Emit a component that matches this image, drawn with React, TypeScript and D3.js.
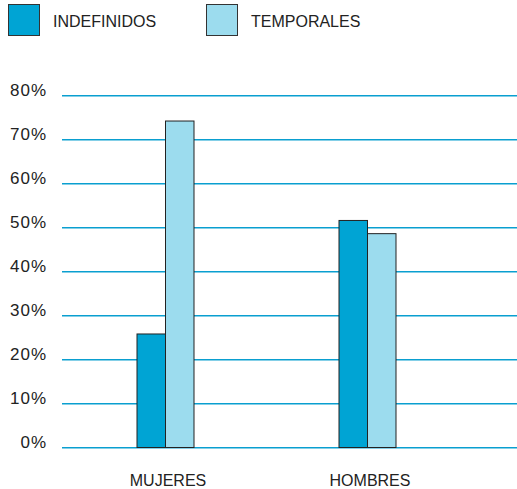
import * as d3 from "d3";
import {useEffect, useRef} from "react";

const categories = ["MUJERES", "HOMBRES"];
const seriesNames = ["INDEFINIDOS", "TEMPORALES"];
const indefinidos = [25.8, 51.6];
const temporales = [74.2, 48.6];
const yTicks = [0, 10, 20, 30, 40, 50, 60, 70, 80];

const colors = ["#00a4d4", "#9cdcee"];

export default function App() {
    const ref = useRef<SVGSVGElement>(null);

    useEffect(() => {
        const width = 517, height = 489;
        const svg = d3.select(ref.current);
        svg.selectAll("*").remove();

        const margin = {top: 95, left: 62, bottom: 42};

        // y scale: 0% -> 447, 80% -> 95
        const y = d3.scaleLinear()
            .domain([0, 80])
            .range([height - margin.bottom, margin.top]);

        // category centers
        const x = d3.scaleBand()
            .domain(categories)
            .range([64, 468])
            .padding(0);

        const groupWidth = 57;
        const inner = d3.scaleBand()
            .domain(seriesNames)
            .range([0, groupWidth])
            .padding(0);

        // gridlines (thin rects, 1px lines came out grey)
        svg.append("g")
            .selectAll("rect")
            .data(yTicks)
            .enter()
            .append("rect")
            .attr("x", margin.left)
            .attr("width", width - margin.left)
            .attr("y", d => Math.round(y(d)))
            .attr("height", 1.5)
            .attr("fill", "#0a9fd0");

        // y labels
        svg.append("g")
            .selectAll("text")
            .data(yTicks)
            .enter()
            .append("text")
            .attr("x", 47)
            .attr("y", d => y(d) + 1)
            .attr("text-anchor", "end")
            .attr("font-size", 17)
            .attr("letter-spacing", 1)
            .attr("fill", "#222")
            .text(d => d + "%");

        const rows = categories.map((c, i) => ({
            cat: c,
            values: [
                {key: seriesNames[0], value: indefinidos[i]},
                {key: seriesNames[1], value: temporales[i]},
            ],
        }));

        const groups = svg.append("g")
            .selectAll("g")
            .data(rows)
            .enter()
            .append("g")
            .attr("transform", d => "translate(" + (x(d.cat)! + x.bandwidth() / 2 - groupWidth / 2) + ",0)");

        groups.selectAll("rect")
            .data(d => d.values)
            .enter()
            .append("rect")
            .attr("x", d => inner(d.key)! + 0.5)
            .attr("y", d => y(d.value) + 0.5)
            .attr("width", inner.bandwidth())
            .attr("height", d => y(0) - y(d.value))
            .attr("fill", (d, i) => colors[i])
            .attr("stroke", "#222")
            .attr("stroke-width", 1);

        // category labels
        svg.append("g")
            .selectAll("text")
            .data(categories)
            .enter()
            .append("text")
            .attr("x", d => x(d)! + x.bandwidth() / 2 + 3)
            .attr("y", 486)
            .attr("text-anchor", "middle")
            .attr("font-size", 16)
            .attr("fill", "#222")
            .text(d => d);

        // legend
        const legendX = [8, 206];
        const legend = svg.append("g")
            .selectAll("g")
            .data(seriesNames)
            .enter()
            .append("g")
            .attr("transform", (d, i) => "translate(" + legendX[i] + ",4)");

        legend.append("rect")
            .attr("x", 0.5)
            .attr("y", 0.5)
            .attr("width", 31)
            .attr("height", 31)
            .attr("fill", (d, i) => colors[i])
            .attr("stroke", "#333")
            .attr("stroke-width", 1);

        legend.append("text")
            .attr("x", 45)
            .attr("y", 23)
            .attr("font-size", 16)
            .attr("fill", "#222")
            .text(d => d);
    }, []);

    return (
        <svg ref={ref} width={517} height={489}
             style={{position: "absolute", left: 0, top: 0, background: "#fff",
                 fontFamily: "'Liberation Sans', Arial, sans-serif"}}/>
    );
}
